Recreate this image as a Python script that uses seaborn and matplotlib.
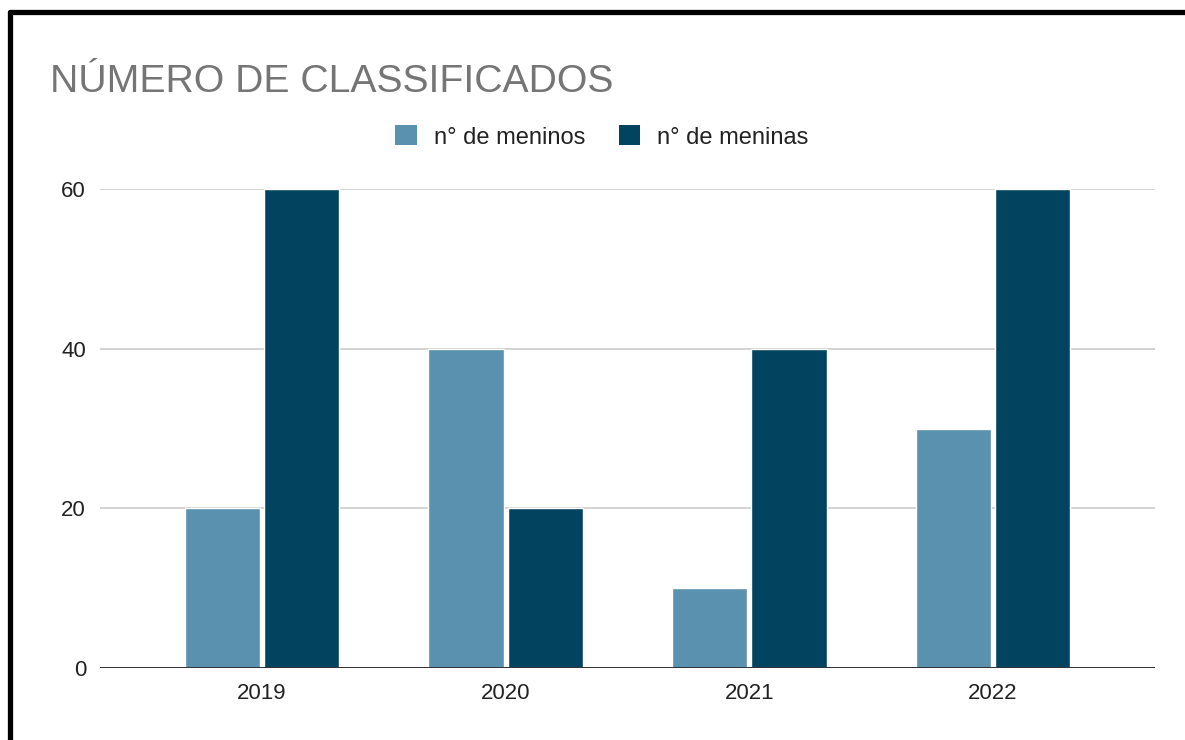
import pandas as pd
import matplotlib.pyplot as plt
import seaborn as sns
from matplotlib.lines import Line2D
from matplotlib.patches import Patch

# dados
anos = ["2019", "2020", "2021", "2022"]
meninos = [20, 40, 10, 30]
meninas = [60, 20, 40, 60]
series = ["n° de meninos", "n° de meninas"]
cores = ["#5a91ae", "#02445f"]

df = pd.DataFrame({
    "ano": anos * 2,
    "valor": meninos + meninas,
    "serie": [series[0]] * len(anos) + [series[1]] * len(anos),
})

sns.set_theme(style="white")
plt.rcParams["font.family"] = ["Liberation Sans", "DejaVu Sans"]

fig = plt.figure(figsize=(11.85, 7.4), dpi=100)
ax = fig.add_axes([100 / 1185, 1 - 668 / 740, 1055 / 1185, (668 - 189) / 740])

sns.barplot(data=df, x="ano", y="valor", hue="serie", palette=cores,
            width=0.65, gap=0.05, ax=ax, saturation=1, legend=False)

ax.set_xlim(-0.665, 3.665)
ax.set_ylim(0, 60)
ax.set_yticks([0, 20, 40, 60])
ax.set_xlabel("")
ax.set_ylabel("")
ax.grid(axis="y", color="#cccccc", lw=1.2)
ax.set_axisbelow(True)
ax.axhline(0, color="#333333", lw=1.4, zorder=5)
sns.despine(ax=ax, left=True, bottom=True)
ax.tick_params(axis="y", length=0, pad=10, labelsize=16, labelcolor="#222222")
ax.tick_params(axis="x", length=0, pad=11, labelsize=16, labelcolor="#222222")

# titulo
fig.text(50 / 1185, 1 - 92 / 740, "NÚMERO DE CLASSIFICADOS", fontsize=28.2,
         color="#757575", va="baseline", ha="left")

# legenda
handles = [Patch(facecolor=c, edgecolor="none") for c in cores]
fig.legend(handles, series, loc="center", bbox_to_anchor=(602 / 1185, 1 - 137 / 740),
           ncol=2, frameon=False, fontsize=17, handlelength=0.93, handleheight=0.93,
           handletextpad=0.72, columnspacing=1.4, labelcolor="#222222")

# moldura
fig.add_artist(Line2D([10 / 1185, 1], [1 - 12 / 740, 1 - 12 / 740], color="black", lw=3.8,
                      transform=fig.transFigure))
fig.add_artist(Line2D([10 / 1185, 10 / 1185], [0, 1 - 12 / 740], color="black", lw=3.8,
                      transform=fig.transFigure))

fig.savefig("out.png", dpi=100)
